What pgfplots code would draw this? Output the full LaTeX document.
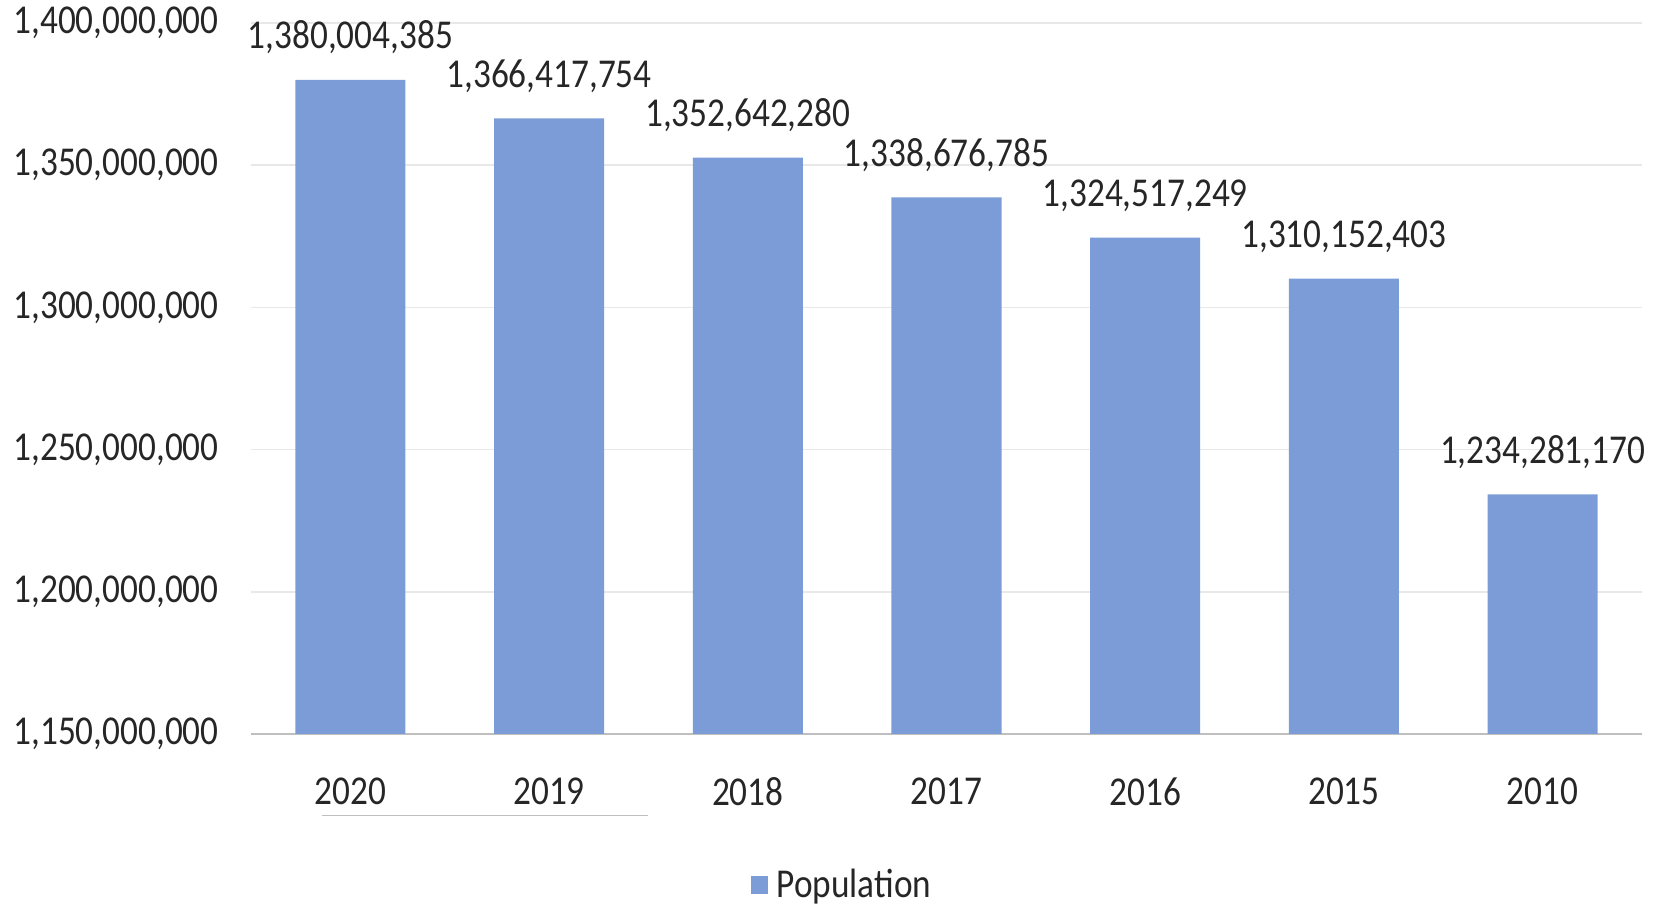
\documentclass[border=0pt]{standalone}
\usepackage{pgfplots}
\pgfplotsset{compat=1.18}
\usepackage{pgfplotstable}
\usepackage{fontspec}
\setmainfont{Carlito}[FakeStretch=0.86]
\definecolor{barblue}{RGB}{123,156,214}
\definecolor{gridgray}{RGB}{232,232,232}
\definecolor{axisgray}{RGB}{191,191,191}
\newcommand{\lbl}{\fontsize{20.5}{24}\selectfont}
\pgfplotstableread{
x y label
0 1380004385 1,380,004,385
1 1366417754 1,366,417,754
2 1352642280 1,352,642,280
3 1338676785 1,338,676,785
4 1324517249 1,324,517,249
5 1310152403 1,310,152,403
6 1234281170 1,234,281,170
}\popdata
\begin{document}
\begin{tikzpicture}
\useasboundingbox (-125.5pt,-87pt) rectangle (701pt,367pt);
\begin{axis}[
  at={(0,0)}, anchor=south west,
  scale only axis,
  width=695.5pt, height=355.5pt,
  xmin=-0.5, xmax=6.5,
  ymin=1150000000, ymax=1400000000,
  scaled y ticks=false,
  axis x line=bottom, axis y line=left,
  x axis line style={draw=axisgray, line width=1pt, -},
  y axis line style={draw=none},
  major tick length=0pt,
  xtick={0,1,2,3,4,5,6},
  xticklabels={2020,2019,2018,2017,2016,2015,2010},
  ytick={1150000000,1200000000,1250000000,1300000000,1350000000,1400000000},
  yticklabels={{1,150,000,000},{1,200,000,000},{1,250,000,000},{1,300,000,000},{1,350,000,000},{1,400,000,000}},
  ymajorgrids,
  major grid style={draw=gridgray, line width=0.8pt},
  yticklabel style={font=\lbl, text=black!85, anchor=east, inner sep=0pt, xshift=-16pt},
  xticklabel style={font=\lbl, text=black!85, anchor=north, inner sep=0pt, yshift=-21.5pt},
  clip=false,
  legend style={at={(0.4256,-0.2124)}, anchor=center, draw=none, font=\lbl, text=black!85, fill=none},
  legend image code/.code={\fill[barblue] (0pt,-4.5pt) rectangle (8.5pt,4.5pt); \path (11pt,0pt);},
]
\addplot[ybar, bar width=55pt, fill=barblue, draw=none,
  point meta=explicit symbolic,
  nodes near coords,
  every node near coord/.style={font=\lbl, text=black!85, anchor=base, inner sep=0pt, yshift=15.5pt}
] table[x=x, y=y, meta=label] {\popdata};
\addlegendentry{Population}
\draw[axisgray, line width=0.5pt] (axis description cs:0.051,-0.1153) -- (axis description cs:0.2854,-0.1153);
\end{axis}
\end{tikzpicture}
\end{document}
